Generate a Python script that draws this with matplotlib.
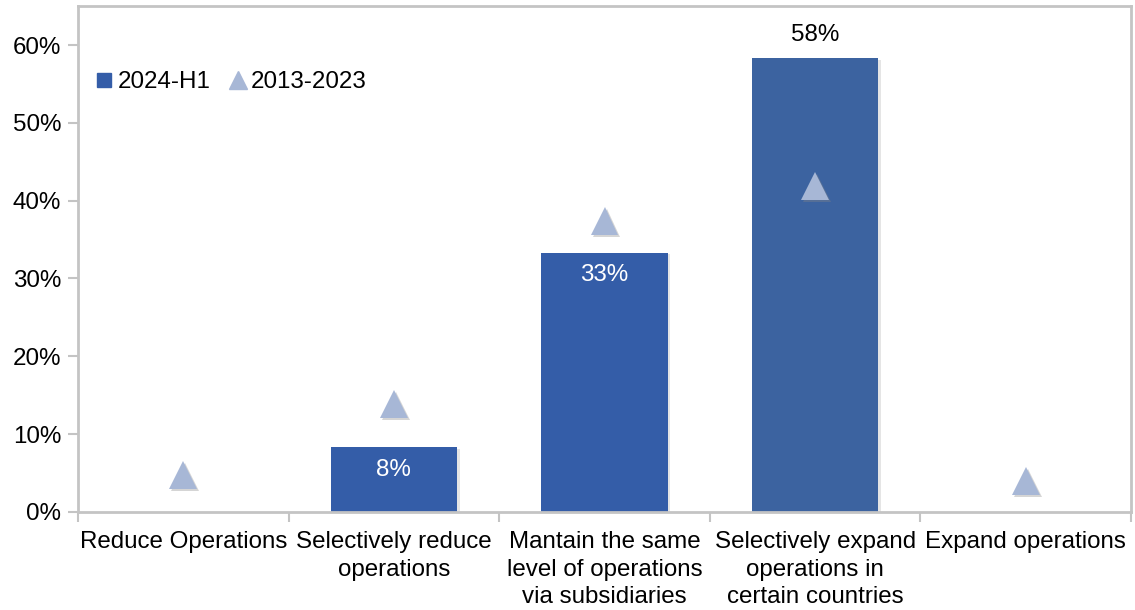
import numpy as np
import matplotlib.pyplot as plt
from matplotlib.lines import Line2D
import matplotlib.patheffects as pe

plt.rcParams['font.family'] = ['Liberation Sans', 'DejaVu Sans']

# 数据
categories = ['Reduce Operations', 'Selectively reduce\noperations',
              'Mantain the same\nlevel of operations\nvia subsidiaries',
              'Selectively expand\noperations in\ncertain countries',
              'Expand operations']
h1_2024 = [np.nan, 8.3, 33.3, 58.3, np.nan]
hist_2013_2023 = [4.8, 13.9, 37.4, 41.9, 4.0]
bar_labels = ['', '8%', '33%', '58%', '']

bar_colors = ['#345DA8', '#345DA8', '#345DA8', '#3C63A0', '#345DA8']
tri_color = '#A7B7D6'
frame_color = '#C4C4C4'
fs = 17.4

fig = plt.figure(figsize=(11.35, 6.1), dpi=100)
ax = fig.add_axes([0.0687, 0.1607, 0.9278, 0.8293])

x = np.arange(len(categories))
shadow = [pe.SimplePatchShadow(offset=(1.5, -1.5), shadow_rgbFace='#888888', alpha=0.35), pe.Normal()]

bars = ax.bar(x, h1_2024, width=0.6, color=bar_colors, zorder=2)
for b in bars:
    b.set_path_effects([pe.SimplePatchShadow(offset=(2, -1), shadow_rgbFace='#999999', alpha=0.25), pe.Normal()])

ax.plot(x, hist_2013_2023, linestyle='none', marker='^', markersize=20,
        color=tri_color, markeredgewidth=0, zorder=3, path_effects=shadow)

# 柱子标签
for i, lab in enumerate(bar_labels):
    if not lab:
        continue
    if i == 3:
        ax.annotate(lab, (x[i], h1_2024[i]), xytext=(0, 17), textcoords='offset points',
                    ha='center', va='center', fontsize=fs, color='black')
    else:
        ax.annotate(lab, (x[i], h1_2024[i]), xytext=(0, -16), textcoords='offset points',
                    ha='center', va='center', fontsize=fs, color='white', zorder=4)

ax.set_xlim(-0.5, len(categories) - 0.5)
ax.set_ylim(0, 65)
ax.set_yticks(np.arange(0, 61, 10))
ax.set_yticklabels([f'{v}%' for v in range(0, 61, 10)], fontsize=fs)

ax.set_xticks(x)
ax.set_xticklabels(categories, fontsize=fs, linespacing=1.3)
ax.set_xticks(np.arange(-0.5, len(categories)), minor=True)
ax.tick_params(axis='x', which='major', length=0, pad=14)
ax.tick_params(axis='x', which='minor', length=7, width=1.5, color=frame_color)
ax.tick_params(axis='y', length=7, width=1.5, color=frame_color, pad=5)

for s in ax.spines.values():
    s.set_color(frame_color)
    s.set_linewidth(2)

handles = [Line2D([], [], linestyle='none', marker='s', markersize=10, color=bar_colors[0]),
           Line2D([], [], linestyle='none', marker='^', markersize=13, color=tri_color)]
ax.legend(handles, ['2024-H1', '2013-2023'], loc='center left', bbox_to_anchor=(-0.004, 0.85),
          ncol=2, frameon=False, fontsize=fs, handletextpad=0.0, columnspacing=0.6,
          handlelength=1.1, borderaxespad=0.3)

fig.savefig('out.png', dpi=100)
